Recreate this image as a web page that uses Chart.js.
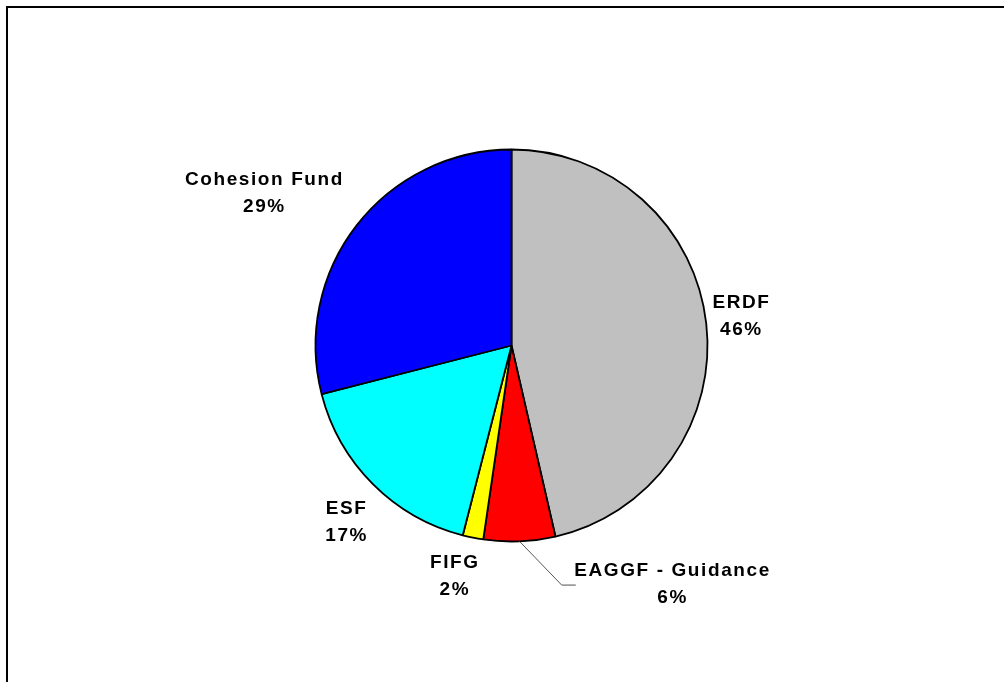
<!DOCTYPE html>
<html>
<head>
<meta charset="utf-8">
<script src="https://cdn.jsdelivr.net/npm/chart.js@4.4.0/dist/chart.umd.min.js"></script>
<style>
  html, body { margin: 0; padding: 0; background: #fff; overflow: hidden; }
  #frame {
    position: absolute; left: 6px; top: 6px; width: 1010px; height: 690px;
    border-left: 2px solid #000; border-top: 2px solid #000;
  }
  #wrap { position: absolute; left: 0; top: 0; width: 1004px; height: 682px; }
</style>
</head>
<body>
<div id="frame"></div>
<div id="wrap"><canvas id="pieChart"></canvas></div>
<script>
const funds = ['ERDF', 'EAGGF - Guidance', 'FIFG', 'ESF', 'Cohesion Fund'];
const shares = [46.4, 5.9, 1.7, 17.0, 29.0];
const sliceColors = ['#C0C0C0', '#FF0000', '#FFFF00', '#00FFFF', '#0000FF'];

// where each label sits, relative to its slice (angle shift in degrees, gap past the rim)
const labelPlacement = [
  { da: -0.8, gap: 35 },
  { da: -31.6, gap: 91, leader: true },
  { da: 2.7, gap: 41 },
  { da: -1.8, gap: 46 },
  { da: -6.2, gap: 95 }
];

const pieLabels = {
  id: 'pieLabels',
  afterDatasetsDraw(chart) {
    const ctx = chart.ctx;
    const arcs = chart.getDatasetMeta(0).data;
    const total = shares.reduce((a, b) => a + b, 0);
    ctx.save();
    ctx.font = 'bold 19px "Liberation Sans", Arial, sans-serif';
    ctx.letterSpacing = '1.6px';
    ctx.fillStyle = '#000';
    ctx.textAlign = 'center';
    ctx.textBaseline = 'middle';
    arcs.forEach((arc, i) => {
      const p = labelPlacement[i];
      const mid = (arc.startAngle + arc.endAngle) / 2;
      const a = mid + p.da * Math.PI / 180;
      const d = arc.outerRadius + p.gap;
      const lx = arc.x + Math.cos(a) * d;
      const ly = arc.y + Math.sin(a) * d;
      const pct = Math.round(shares[i] / total * 100) + '%';
      ctx.fillText(funds[i], lx + 0.8, ly - 13);
      ctx.fillText(pct, lx + 0.8, ly + 14);

      if (p.leader) {
        const sx = arc.x + Math.cos(mid) * arc.outerRadius;
        const sy = arc.y + Math.sin(mid) * arc.outerRadius;
        const ex = lx - 96;
        const ey = ly + 1.5;
        ctx.beginPath();
        ctx.strokeStyle = '#555555';
        ctx.lineWidth = 1;
        ctx.moveTo(sx, sy);
        ctx.lineTo(ex - 14, ey);
        ctx.stroke();
        ctx.beginPath();
        ctx.strokeStyle = '#8a8a8a';
        ctx.lineWidth = 1.5;
        ctx.moveTo(ex - 14, ey);
        ctx.lineTo(ex, ey);
        ctx.stroke();
      }
    });
    ctx.restore();
  }
};

new Chart(document.getElementById('pieChart'), {
  type: 'pie',
  data: {
    labels: funds,
    datasets: [{
      data: shares,
      backgroundColor: sliceColors,
      borderColor: '#000000',
      borderWidth: 1.8
    }]
  },
  options: {
    responsive: true,
    maintainAspectRatio: false,
    animation: false,
    layout: { padding: { left: 314.6, right: 295.6, top: 148.6, bottom: 139.6 } },
    plugins: {
      legend: { display: false },
      tooltip: { enabled: false }
    }
  },
  plugins: [pieLabels]
});
</script>
</body>
</html>
